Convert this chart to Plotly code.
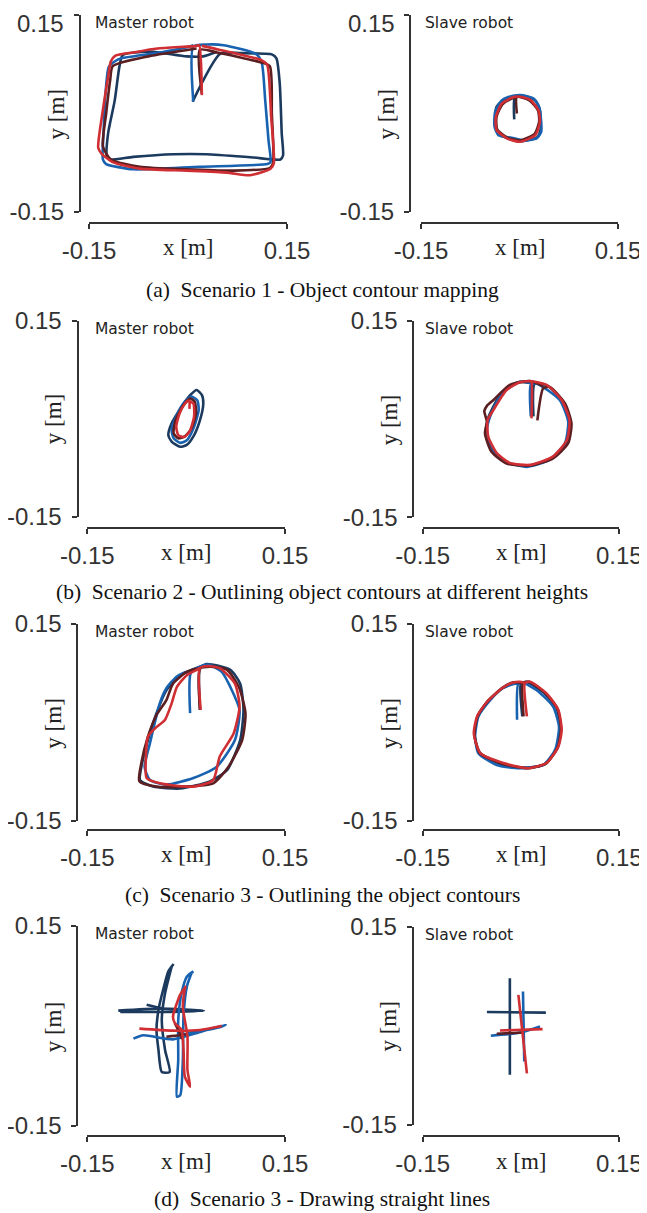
import plotly.graph_objects as go

PAGE_W, PAGE_H = 647, 1213
PAGE_OFFSET = 8  # browser body margin in front of the figure
W, H = PAGE_W - PAGE_OFFSET, PAGE_H - PAGE_OFFSET

TICK_VALS = [-0.15, 0.15]
TICK_TEXT = ["-0.15", "0.15"]
CAPTIONS = [
    "(a)  Scenario 1 - Object contour mapping",
    "(b)  Scenario 2 - Outlining object contours at different heights",
    "(c)  Scenario 3 - Outlining the object contours",
    "(d)  Scenario 3 - Drawing straight lines",
]
PANEL_TITLES = ["Master robot", "Slave robot"]

# ---------------- Scenario 1 : master ----------------
AM_NAVY_X = [0.007, 0.049, 0.079, 0.115, 0.127, 0.134, 0.139, 0.142, 0.144, 0.140, 0.099, 0.028, -0.022, -0.083, -0.119, -0.123, -0.121, -0.111, -0.104, -0.099, -0.080, -0.053, -0.002, 0.023, 0.044]
AM_NAVY_Y = [0.018, 0.091, 0.092, 0.091, 0.090, 0.084, 0.046, -0.030, -0.064, -0.070, -0.067, -0.062, -0.062, -0.066, -0.070, -0.065, -0.030, 0.020, 0.071, 0.089, 0.093, 0.094, 0.087, 0.087, 0.094]
AM_BLUE_X = [0.008, 0.008, 0.028, 0.054, 0.104, 0.112, 0.117, 0.122, 0.125, 0.120, 0.018, -0.083, -0.124, -0.129, -0.128, -0.125, -0.120, -0.110, -0.101, -0.048, 0.003, 0.008]
AM_BLUE_Y = [0.018, 0.102, 0.105, 0.104, 0.090, 0.076, 0.020, -0.041, -0.074, -0.077, -0.081, -0.085, -0.077, -0.070, -0.030, 0.030, 0.071, 0.080, 0.084, 0.092, 0.102, 0.104]
AM_MAROON_X = [0.021, 0.018, 0.044, 0.110, 0.124, 0.127, 0.129, 0.124, 0.069, -0.002, -0.073, -0.117, -0.129, -0.124, -0.118, -0.114, -0.060, 0.013]
AM_MAROON_Y = [0.030, 0.097, 0.093, 0.078, 0.072, 0.000, -0.075, -0.083, -0.087, -0.085, -0.081, -0.070, -0.050, 0.000, 0.050, 0.072, 0.087, 0.099]
AM_RED_X = [0.021, 0.017, 0.013, -0.047, -0.083, -0.110, -0.117, -0.121, -0.129, -0.136, -0.131, -0.114, -0.073, -0.002, 0.059, 0.094, 0.125, 0.130, 0.126, 0.120, 0.112, 0.044, 0.021]
AM_RED_Y = [0.028, 0.104, 0.103, 0.099, 0.093, 0.088, 0.079, 0.056, 0.005, -0.052, -0.061, -0.074, -0.084, -0.087, -0.090, -0.094, -0.084, -0.076, -0.005, 0.074, 0.081, 0.098, 0.103]

# ---------------- Scenario 1 : slave ----------------
AS_NAVY_X = [-0.008, -0.007, 0.005, 0.024, 0.031, 0.032, 0.027, 0.005, -0.015, -0.033, -0.037, -0.035, -0.024, -0.007]
AS_NAVY_Y = [-0.009, 0.025, 0.027, 0.020, 0.005, -0.025, -0.036, -0.042, -0.039, -0.030, -0.010, 0.010, 0.021, 0.025]
AS_BLUE_X = [-0.017, 0.001, 0.021, 0.030, 0.033, 0.026, 0.006, -0.012, -0.032, -0.038, -0.037, -0.027, -0.017]
AS_BLUE_Y = [0.025, 0.028, 0.023, 0.010, -0.028, -0.038, -0.041, -0.037, -0.033, -0.020, 0.003, 0.020, 0.025]
AS_MAROON_X = [-0.004, -0.004, 0.015, 0.028, 0.030, 0.023, 0.001, -0.018, -0.034, -0.035, -0.026, -0.011, -0.004]
AS_MAROON_Y = [0.000, 0.025, 0.020, 0.005, -0.012, -0.031, -0.041, -0.037, -0.024, -0.005, 0.014, 0.023, 0.025]
AS_RED_X = [-0.003, 0.016, 0.029, 0.031, 0.024, 0.001, -0.019, -0.035, -0.036, -0.027, -0.012, -0.003]
AS_RED_Y = [0.026, 0.021, 0.005, -0.013, -0.033, -0.043, -0.038, -0.025, -0.005, 0.015, 0.024, 0.026]

# ---------------- Scenario 2 : master ----------------
BM_NAVY_X = [0.016, 0.024, 0.026, 0.021, 0.011, 0.001, -0.009, -0.022, -0.027, -0.022, -0.007, 0.006, 0.016]
BM_NAVY_Y = [0.044, 0.036, 0.023, -0.002, -0.027, -0.040, -0.043, -0.035, -0.025, -0.007, 0.018, 0.036, 0.044]
BM_BLUE_X = [0.008, 0.017, 0.019, 0.011, 0.001, -0.009, -0.019, -0.022, -0.014, -0.002, 0.008]
BM_BLUE_Y = [0.034, 0.028, 0.013, -0.015, -0.033, -0.037, -0.030, -0.017, 0.006, 0.026, 0.034]
BM_MAROON_X = [0.006, 0.013, 0.015, 0.008, -0.002, -0.012, -0.019, -0.016, -0.004, 0.006]
BM_MAROON_Y = [0.031, 0.026, 0.008, -0.015, -0.027, -0.030, -0.022, -0.002, 0.021, 0.031]
BM_RED_X = [0.005, 0.005, 0.003, 0.011, 0.012, 0.005, -0.003, -0.012, -0.015, -0.010, -0.002, 0.003]
BM_RED_Y = [0.015, 0.026, 0.028, 0.023, 0.003, -0.020, -0.028, -0.025, -0.012, 0.008, 0.023, 0.028]

# ---------------- Scenario 2 : slave ----------------
BS_NAVY_X = [0.019, 0.021, 0.040, 0.063, 0.075, 0.070, 0.047, 0.012, -0.020, -0.044, -0.054, -0.050, -0.032, -0.005, 0.021]
BS_NAVY_Y = [0.004, 0.054, 0.051, 0.028, -0.004, -0.035, -0.060, -0.071, -0.067, -0.048, -0.022, 0.002, 0.036, 0.056, 0.054]
BS_BLUE_X = [0.015, 0.015, 0.024, 0.059, 0.072, 0.067, 0.044, 0.009, -0.024, -0.047, -0.052, -0.047, -0.029, -0.002, 0.015]
BS_BLUE_Y = [0.004, 0.052, 0.054, 0.029, -0.004, -0.037, -0.062, -0.073, -0.065, -0.042, -0.017, 0.004, 0.039, 0.057, 0.055]
BS_MAROON_X = [0.025, 0.034, 0.044, 0.067, 0.077, 0.072, 0.049, 0.014, -0.022, -0.045, -0.055, -0.052, -0.056, -0.052, -0.042, -0.017, 0.014, 0.034]
BS_MAROON_Y = [-0.002, 0.047, 0.049, 0.024, -0.007, -0.037, -0.060, -0.071, -0.068, -0.050, -0.022, -0.004, 0.012, 0.020, 0.029, 0.052, 0.058, 0.050]
BS_RED_X = [0.016, 0.016, 0.014, 0.039, 0.062, 0.074, 0.070, 0.049, 0.014, -0.017, -0.037, -0.050, -0.051, -0.042, -0.022, -0.002, 0.014]
BS_RED_Y = [0.001, 0.057, 0.058, 0.052, 0.029, -0.002, -0.032, -0.057, -0.070, -0.067, -0.052, -0.027, -0.002, 0.014, 0.044, 0.056, 0.058]

# ---------------- Scenario 3 contours : master ----------------
CM_NAVY_X = [0.021, 0.021, 0.031, 0.067, 0.082, 0.087, 0.082, 0.062, 0.036, -0.009, -0.050, -0.070, -0.068, -0.058, -0.045, -0.030, -0.009, 0.011, 0.031]
CM_NAVY_Y = [0.019, 0.082, 0.089, 0.080, 0.059, 0.019, -0.027, -0.073, -0.090, -0.101, -0.098, -0.088, -0.068, -0.027, 0.014, 0.049, 0.072, 0.081, 0.089]
CM_BLUE_X = [0.006, 0.007, 0.021, 0.034, 0.054, 0.067, 0.081, 0.074, 0.046, 0.011, -0.030, -0.055, -0.063, -0.055, -0.040, -0.030, -0.014, 0.001, 0.007]
CM_BLUE_Y = [0.014, 0.075, 0.085, 0.088, 0.077, 0.054, 0.019, -0.027, -0.068, -0.085, -0.095, -0.088, -0.068, -0.032, 0.029, 0.052, 0.070, 0.077, 0.075]
CM_MAROON_X = [0.021, 0.021, 0.036, 0.062, 0.080, 0.090, 0.085, 0.064, 0.041, -0.004, -0.045, -0.071, -0.068, -0.058, -0.045, -0.030, -0.020, 0.001, 0.013, 0.021]
CM_MAROON_Y = [0.019, 0.082, 0.085, 0.080, 0.054, 0.014, -0.027, -0.068, -0.093, -0.098, -0.098, -0.090, -0.062, -0.022, 0.011, 0.034, 0.059, 0.077, 0.081, 0.082]
CM_RED_X = [0.022, 0.021, 0.034, 0.052, 0.074, 0.081, 0.072, 0.051, 0.041, 0.011, -0.040, -0.060, -0.061, -0.058, -0.047, -0.032, -0.022, -0.014, 0.001, 0.016, 0.021]
CM_RED_Y = [0.019, 0.083, 0.086, 0.082, 0.059, 0.024, -0.017, -0.052, -0.088, -0.098, -0.093, -0.085, -0.052, -0.022, -0.009, 0.004, 0.029, 0.054, 0.072, 0.080, 0.083]

# ---------------- Scenario 3 contours : slave ----------------
CS_NAVY_X = [0.002, 0.000, 0.010, 0.034, 0.054, 0.061, 0.055, 0.036, 0.005, -0.032, -0.063, -0.071, -0.066, -0.050, -0.028, -0.010, 0.000]
CS_NAVY_Y = [0.009, 0.060, 0.061, 0.046, 0.022, -0.010, -0.040, -0.064, -0.069, -0.063, -0.046, -0.019, 0.010, 0.033, 0.052, 0.060, 0.060]
CS_BLUE_X = [-0.006, -0.004, 0.004, 0.024, 0.049, 0.058, 0.052, 0.034, -0.002, -0.037, -0.065, -0.070, -0.065, -0.047, -0.027, -0.009, -0.004]
CS_BLUE_Y = [0.004, 0.059, 0.060, 0.049, 0.024, -0.007, -0.042, -0.065, -0.070, -0.065, -0.047, -0.022, 0.009, 0.034, 0.053, 0.059, 0.059]
CS_MAROON_X = [0.004, 0.003, 0.012, 0.037, 0.056, 0.061, 0.056, 0.038, 0.009, -0.029, -0.063, -0.071, -0.066, -0.051, -0.028, -0.012, 0.003]
CS_MAROON_Y = [0.009, 0.060, 0.062, 0.045, 0.020, -0.011, -0.038, -0.063, -0.070, -0.063, -0.047, -0.018, 0.010, 0.032, 0.053, 0.061, 0.060]
CS_RED_X = [0.009, 0.006, 0.014, 0.039, 0.057, 0.062, 0.057, 0.039, 0.011, -0.027, -0.062, -0.072, -0.067, -0.052, -0.029, -0.014, -0.002, 0.006]
CS_RED_Y = [0.009, 0.060, 0.062, 0.044, 0.019, -0.012, -0.037, -0.062, -0.070, -0.062, -0.047, -0.017, 0.009, 0.031, 0.052, 0.060, 0.062, 0.060]

# ---------------- Scenario 3 straight lines : master ----------------
DM_NAVY_X = [-0.019, -0.027, -0.035, -0.042, -0.045, -0.042, -0.037, -0.025, -0.032, -0.037, -0.032, -0.022, None, -0.103, -0.040, 0.027, -0.040, -0.100, None, -0.060, -0.035]
DM_NAVY_Y = [0.093, 0.082, 0.054, 0.024, -0.006, -0.036, -0.069, -0.069, -0.036, 0.009, 0.049, 0.089, None, 0.023, 0.026, 0.023, 0.021, 0.021, None, 0.032, 0.026]
DM_BLUE_X = [0.011, 0.001, -0.007, -0.012, -0.012, -0.014, -0.009, -0.005, -0.004, 0.001, 0.008, None, -0.080, -0.065, -0.020, 0.021, 0.060, 0.051, 0.001]
DM_BLUE_Y = [0.082, 0.074, 0.049, 0.009, -0.051, -0.106, -0.104, -0.051, 0.014, 0.059, 0.079, None, -0.019, -0.014, -0.020, -0.009, 0.002, -0.002, -0.011]
DM_MAROON_X = [-0.030, -0.010, 0.001, None, -0.017, -0.010, -0.006]
DM_MAROON_Y = [-0.016, -0.014, -0.012, None, 0.004, -0.010, -0.020]
DM_RED_X = [0.000, -0.009, -0.020, -0.017, -0.007, -0.004, -0.002, 0.006, 0.002, 0.002, -0.005, -0.002, None, -0.071, -0.020, 0.021, 0.054]
DM_RED_Y = [0.060, 0.047, 0.014, 0.004, -0.006, -0.036, -0.076, -0.091, -0.066, -0.016, 0.029, 0.057, None, -0.004, -0.007, -0.006, 0.000]

# ---------------- Scenario 3 straight lines : slave ----------------
DS_NAVY_X = [-0.017, -0.017, None, -0.052, 0.038]
DS_NAVY_Y = [0.072, -0.074, None, 0.021, 0.020]
DS_BLUE_X = [0.003, 0.005, None, -0.046, 0.000, 0.029]
DS_BLUE_Y = [0.052, -0.054, None, -0.015, -0.010, -0.001]
DS_MAROON_X = [-0.037, 0.004]
DS_MAROON_Y = [-0.012, -0.010]
DS_RED_X = [-0.004, 0.009, None, -0.032, 0.033]
DS_RED_Y = [0.047, -0.072, None, -0.007, -0.005]

SERIES = {
    "AM": [(AM_NAVY_X, AM_NAVY_Y), (AM_BLUE_X, AM_BLUE_Y), (AM_MAROON_X, AM_MAROON_Y), (AM_RED_X, AM_RED_Y)],
    "AS": [(AS_NAVY_X, AS_NAVY_Y), (AS_BLUE_X, AS_BLUE_Y), (AS_MAROON_X, AS_MAROON_Y), (AS_RED_X, AS_RED_Y)],
    "BM": [(BM_NAVY_X, BM_NAVY_Y), (BM_BLUE_X, BM_BLUE_Y), (BM_MAROON_X, BM_MAROON_Y), (BM_RED_X, BM_RED_Y)],
    "BS": [(BS_NAVY_X, BS_NAVY_Y), (BS_BLUE_X, BS_BLUE_Y), (BS_MAROON_X, BS_MAROON_Y), (BS_RED_X, BS_RED_Y)],
    "CM": [(CM_NAVY_X, CM_NAVY_Y), (CM_BLUE_X, CM_BLUE_Y), (CM_MAROON_X, CM_MAROON_Y), (CM_RED_X, CM_RED_Y)],
    "CS": [(CS_NAVY_X, CS_NAVY_Y), (CS_BLUE_X, CS_BLUE_Y), (CS_MAROON_X, CS_MAROON_Y), (CS_RED_X, CS_RED_Y)],
    "DM": [(DM_NAVY_X, DM_NAVY_Y), (DM_BLUE_X, DM_BLUE_Y), (DM_MAROON_X, DM_MAROON_Y), (DM_RED_X, DM_RED_Y)],
    "DS": [(DS_NAVY_X, DS_NAVY_Y), (DS_BLUE_X, DS_BLUE_Y), (DS_MAROON_X, DS_MAROON_Y), (DS_RED_X, DS_RED_Y)],
}
COLORS = ["#1c3a5e", "#1862b0", "#5b1f22", "#cf2e33"]

# pixel layout (page pixels): key, y-axis line x, y top, y bottom, x-axis line y, x left, x right
PANELS = [
    ("AM", 80.0, 15.0, 212.0, 223.0, 89.0, 287.0),
    ("AS", 410.0, 15.0, 212.0, 223.0, 421.0, 618.0),
    ("BM", 77.5, 320.7, 516.7, 527.7, 87.3, 285.0),
    ("BS", 413.3, 320.7, 517.3, 527.7, 422.7, 619.3),
    ("CM", 77.3, 624.0, 820.7, 830.0, 87.3, 285.0),
    ("CS", 413.3, 624.0, 820.7, 830.0, 422.7, 619.3),
    ("DM", 77.3, 926.0, 1126.0, 1136.0, 87.3, 285.0),
    ("DS", 412.7, 926.7, 1125.0, 1136.0, 422.7, 619.3),
]
CAPTION_Y = [290, 592, 895, 1199]


def fx(px):
    return (px - PAGE_OFFSET) / W


def fy(py):
    return 1 - (py - PAGE_OFFSET) / H


AX_COLOR = "#333333"
TICK_FONT = dict(family="Liberation Sans, Arial, sans-serif", size=24, color="#333333")
SERIF = "Liberation Serif, Times New Roman, serif"

fig = go.Figure()
layout = dict(
    template="none",
    width=W, height=H, margin=dict(l=0, r=0, t=0, b=0, pad=0, autoexpand=False),
    paper_bgcolor="white", plot_bgcolor="white", showlegend=False,
)
annotations = []

for i, (key, ylx, yt, yb, xly, xl, xr) in enumerate(PANELS):
    n = i + 1
    xa = "x" if n == 1 else f"x{n}"
    ya = "y" if n == 1 else f"y{n}"
    for (sx, sy), col in zip(SERIES[key], COLORS):
        fig.add_trace(go.Scatter(
            x=sx, y=sy, mode="lines", xaxis=xa, yaxis=ya,
            line=dict(color=col, width=2.6, shape="spline", smoothing=0.6),
            connectgaps=False, hoverinfo="skip",
        ))
    common = dict(
        range=[-0.15, 0.15], tickvals=TICK_VALS,
        showline=True, linecolor=AX_COLOR, linewidth=2, ticks="outside",
        ticklen=5, tickwidth=2, tickcolor=AX_COLOR, showgrid=False,
        zeroline=False, tickfont=TICK_FONT, anchor="free", fixedrange=True,
        automargin=False, ticklabeloverflow="allow",
    )
    top_row = yt < 20  # top label would touch the page edge: draw it as text instead
    y_ticktext = [TICK_TEXT[0], ""] if top_row else TICK_TEXT
    layout["xaxis" if n == 1 else f"xaxis{n}"] = dict(
        common, ticktext=TICK_TEXT, domain=[fx(xl), fx(xr)], position=fy(xly), ticklabelstandoff=1,
    )
    layout["yaxis" if n == 1 else f"yaxis{n}"] = dict(
        common, ticktext=y_ticktext, domain=[fy(yb), fy(yt)], position=fx(ylx), ticklabelstandoff=5,
    )
    if top_row:
        annotations.append(dict(
            text=TICK_TEXT[1], xref="paper", yref="paper", x=fx(ylx - 14.5), y=fy(PAGE_OFFSET + 0.5),
            showarrow=False, xanchor="right", yanchor="top", borderpad=0,
            font=TICK_FONT,
        ))
    annotations.append(dict(
        text="x [m]", xref="paper", yref="paper", x=fx((xl + xr) / 2), y=fy(xly + 25),
        showarrow=False, xanchor="center", yanchor="middle",
        font=dict(family=SERIF, size=23, color="#222222"),
    ))
    annotations.append(dict(
        text="y [m]", xref="paper", yref="paper", x=fx(ylx - 24), y=fy((yt + yb) / 2 + 1),
        showarrow=False, xanchor="center", yanchor="middle", textangle=-90,
        font=dict(family=SERIF, size=23, color="#222222"),
    ))
    is_master = (i % 2 == 0)
    annotations.append(dict(
        text=PANEL_TITLES[0] if is_master else PANEL_TITLES[1],
        xref="paper", yref="paper", x=fx(93 if is_master else 423), y=fy(yt + 8),
        showarrow=False, xanchor="left", yanchor="middle",
        font=dict(family="DejaVu Sans, sans-serif", size=15.5, color="#222222"),
    ))

for cap, cy in zip(CAPTIONS, CAPTION_Y):
    annotations.append(dict(
        text=cap, xref="paper", yref="paper", x=fx(322), y=fy(cy),
        showarrow=False, xanchor="center", yanchor="middle",
        font=dict(family=SERIF, size=21.5, color="#111111"),
    ))

layout["annotations"] = annotations
fig.update_layout(**layout)
fig.write_html("out.html")
